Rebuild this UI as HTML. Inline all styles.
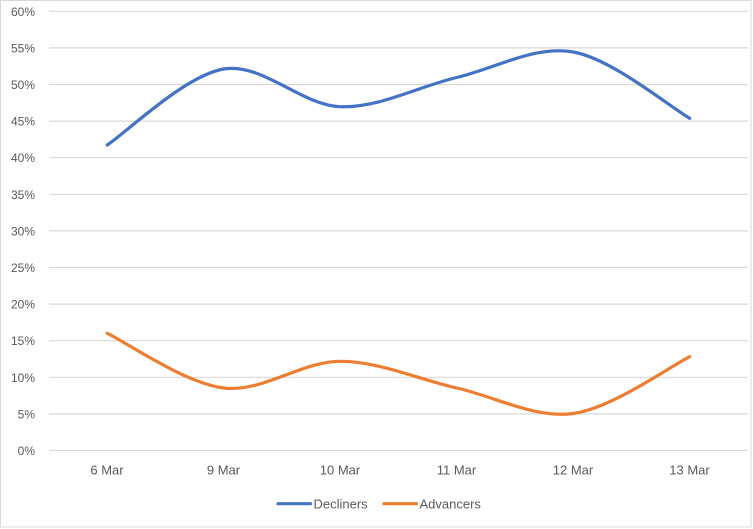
<!DOCTYPE html>
<html>
<head>
<meta charset="utf-8">
<style>
html,body{margin:0;padding:0;background:#fff;}
svg{display:block;}
text{font-family:"Liberation Sans",Arial,sans-serif;fill:#595959;}
</style>
</head>
<body>
<svg width="753" height="529" viewBox="0 0 753 529" xmlns="http://www.w3.org/2000/svg">
<rect x="0" y="0" width="753" height="529" fill="#fff"/>
<rect x="0.5" y="0.5" width="750.5" height="526.5" fill="none" stroke="#D9D9D9" stroke-width="1"/>
<g stroke="#D9D9D9" stroke-width="1.2">
<line x1="49" x2="748" y1="450.5" y2="450.5"/>
<line x1="49" x2="748" y1="413.9" y2="413.9"/>
<line x1="49" x2="748" y1="377.3" y2="377.3"/>
<line x1="49" x2="748" y1="340.7" y2="340.7"/>
<line x1="49" x2="748" y1="304.1" y2="304.1"/>
<line x1="49" x2="748" y1="267.5" y2="267.5"/>
<line x1="49" x2="748" y1="230.9" y2="230.9"/>
<line x1="49" x2="748" y1="194.3" y2="194.3"/>
<line x1="49" x2="748" y1="157.7" y2="157.7"/>
<line x1="49" x2="748" y1="121.1" y2="121.1"/>
<line x1="49" x2="748" y1="84.5" y2="84.5"/>
<line x1="49" x2="748" y1="47.9" y2="47.9"/>
<line x1="49" x2="748" y1="11.3" y2="11.3"/>
</g>
<g font-size="12" text-anchor="end">
<text x="35" y="455">0%</text>
<text x="35" y="418.4">5%</text>
<text x="35" y="381.8">10%</text>
<text x="35" y="345.2">15%</text>
<text x="35" y="308.6">20%</text>
<text x="35" y="272">25%</text>
<text x="35" y="235.4">30%</text>
<text x="35" y="198.8">35%</text>
<text x="35" y="162.2">40%</text>
<text x="35" y="125.6">45%</text>
<text x="35" y="89">50%</text>
<text x="35" y="52.4">55%</text>
<text x="35" y="15.8">60%</text>
</g>
<g font-size="13" text-anchor="middle">
<text x="107" y="474.5">6 Mar</text>
<text x="223.5" y="474.5">9 Mar</text>
<text x="340" y="474.5">10 Mar</text>
<text x="456.5" y="474.5">11 Mar</text>
<text x="573" y="474.5">12 Mar</text>
<text x="689.5" y="474.5">13 Mar</text>
</g>
<path d="M107.25,145 C126.67,132.33 184.92,75.38 223.75,69 C262.58,62.62 301.42,105.28 340.25,106.7 C379.08,108.12 417.92,86.62 456.75,77.5 C495.58,68.38 534.42,45.2 573.25,52 C612.08,58.8 670.33,107.25 689.75,118.3" fill="none" stroke="#4472C4" stroke-width="3.2" stroke-linecap="round" stroke-linejoin="round"/>
<path d="M107.25,333.3 C126.67,342.42 184.92,383.33 223.75,388 C262.58,392.67 301.42,361.3 340.25,361.3 C379.08,361.3 417.92,379.3 456.75,388 C495.58,396.7 534.42,418.72 573.25,413.5 C612.08,408.28 670.33,366.17 689.75,356.7" fill="none" stroke="#ED7D31" stroke-width="3.2" stroke-linecap="round" stroke-linejoin="round"/>
<line x1="278" y1="503.7" x2="310.5" y2="503.7" stroke="#4472C4" stroke-width="3.2" stroke-linecap="round"/>
<text x="313.5" y="508.3" font-size="13">Decliners</text>
<line x1="384" y1="503.7" x2="416.5" y2="503.7" stroke="#ED7D31" stroke-width="3.2" stroke-linecap="round"/>
<text x="419.5" y="508.3" font-size="13">Advancers</text>
</svg>
</body>
</html>
